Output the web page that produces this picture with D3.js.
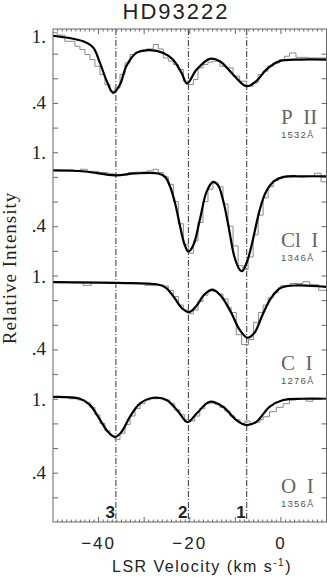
<!DOCTYPE html>
<meta charset="utf-8">
<script src="https://d3js.org/d3.v7.min.js"></script>
<style>
  body { margin: 0; background: #fff; }
  text { fill: #222; }
</style>
<div id="chart"></div>
<script>

// panels, top to bottom
var species = ["P II", "Cl I", "C I", "O I"];
var wavelengths = ["1532Å", "1346Å", "1276Å", "1356Å"];
var offsets = [3, 2, 1, 0];

// velocity components (km/s)
var compVel = [-7.5, -20.3, -36.2];
var compLabels = ["1", "2", "3"];

var xTicks = [-40, -20, 0];

// model fits: [velocity, relative intensity]
var fitP2 = [[-50,0.945],[-43.4,0.90],[-41.2,0.85],[-39.7,0.725],[-38.2,0.577],[-36.8,0.482],[-35.3,0.55],[-33.9,0.70],[-31.7,0.806],[-28.8,0.828],[-25.8,0.806],[-23.7,0.752],[-21.8,0.644],[-20.6,0.558],[-18.5,0.671],[-15.6,0.758],[-13.4,0.739],[-10.5,0.631],[-7.6,0.536],[-5.4,0.577],[-3.2,0.671],[-0.3,0.739],[4.1,0.752],[10,0.752]];
var fitCl1 = [[-50,0.852],[-43,0.844],[-36.4,0.812],[-32,0.828],[-26.9,0.828],[-25.4,0.80],[-24.3,0.72],[-23.2,0.585],[-22.1,0.395],[-21.2,0.26],[-20.3,0.193],[-19.2,0.247],[-17.8,0.45],[-16.3,0.68],[-14.9,0.76],[-13.8,0.733],[-12.7,0.612],[-11.6,0.42],[-10.2,0.152],[-9.1,0.05],[-8.5,0.035],[-7.4,0.116],[-6.3,0.265],[-4.8,0.51],[-3.4,0.67],[-1.5,0.765],[0.6,0.80],[5,0.805],[10,0.805]];
var fitC1 = [[-50,0.946],[-36,0.94],[-27,0.927],[-25.2,0.90],[-23.4,0.82],[-21.6,0.73],[-20.1,0.703],[-18.6,0.75],[-16.8,0.846],[-15,0.886],[-13.1,0.832],[-10.9,0.697],[-9.1,0.562],[-7.3,0.495],[-5.8,0.535],[-4,0.684],[-2.1,0.82],[0,0.90],[3.6,0.92],[10,0.908]];
var fitO1 = [[-50,1.015],[-44.1,1.0],[-41.9,0.95],[-39.7,0.83],[-37.9,0.73],[-36.4,0.69],[-35,0.73],[-33.1,0.855],[-30.9,0.962],[-28,1.008],[-25.1,0.99],[-22.5,0.895],[-20.5,0.81],[-18.5,0.88],[-15.6,0.976],[-12.7,0.935],[-9.8,0.827],[-7.6,0.787],[-5.4,0.813],[-2.5,0.935],[0.5,0.99],[4.8,1.0],[10,1.0]];

// observed spectra: [bin start velocity, relative intensity]
var dataP2 = [[-50,0.97],[-49.05,0.95],[-47.4,0.90],[-45.2,0.86],[-44.1,0.834],[-43.0,0.793],[-41.9,0.752],[-40.8,0.698],[-39.7,0.631],[-38.6,0.55],[-37.5,0.496],[-36.4,0.522],[-35.3,0.631],[-34.2,0.725],[-33.1,0.793],[-32.0,0.811],[-30.9,0.82],[-29.5,0.838],[-28.0,0.874],[-26.9,0.838],[-25.8,0.765],[-24.7,0.739],[-23.6,0.712],[-22.5,0.671],[-21.4,0.577],[-20.3,0.55],[-19.2,0.59],[-18.2,0.685],[-17.1,0.712],[-16.0,0.731],[-14.9,0.739],[-13.4,0.698],[-12.0,0.685],[-10.5,0.617],[-9.05,0.577],[-7.6,0.536],[-6.1,0.563],[-5.0,0.631],[-3.9,0.658],[-2.85,0.698],[-1.75,0.725],[-0.3,0.752],[0.8,0.779],[1.9,0.806],[3.3,0.77],[5.9,0.765],[10,0.765]];
var dataCl1 = [[-50,0.86],[-48.0,0.858],[-45.5,0.852],[-44.0,0.862],[-42.5,0.845],[-40,0.835],[-38,0.825],[-36.5,0.815],[-35,0.818],[-33.5,0.835],[-32,0.838],[-30.5,0.84],[-29.3,0.85],[-28,0.862],[-26.9,0.835],[-25.8,0.80],[-24.7,0.74],[-23.6,0.60],[-22.5,0.42],[-21.4,0.25],[-20.3,0.18],[-19.2,0.28],[-18.2,0.43],[-17.1,0.60],[-16.0,0.70],[-14.9,0.75],[-13.8,0.72],[-12.7,0.58],[-11.6,0.40],[-10.5,0.24],[-9.4,0.08],[-8.3,0.05],[-7.2,0.15],[-6.1,0.33],[-5.0,0.49],[-3.9,0.63],[-2.8,0.72],[-1.7,0.77],[-0.6,0.79],[0.5,0.80],[1.6,0.80],[3,0.80],[5,0.805],[7.4,0.83],[8.8,0.76],[10,0.76]];
var dataC1 = [[-50,0.95],[-47,0.945],[-43.4,0.92],[-41.6,0.942],[-38,0.94],[-35,0.94],[-32,0.935],[-29.8,0.92],[-27.2,0.925],[-25.8,0.915],[-24.7,0.88],[-23.6,0.83],[-22.5,0.76],[-21.4,0.72],[-20.3,0.69],[-19.2,0.72],[-18.2,0.79],[-17.1,0.84],[-16.0,0.875],[-14.9,0.87],[-13.8,0.85],[-12.7,0.81],[-11.6,0.74],[-10.9,0.70],[-9.8,0.52],[-8.6,0.44],[-7.1,0.48],[-6.0,0.62],[-4.9,0.70],[-3.9,0.76],[-2.8,0.82],[-1.7,0.86],[-0.6,0.90],[0.0,0.92],[2.0,0.935],[4.8,0.95],[6.3,0.925],[8.3,0.88],[10,0.88]];
var dataO1 = [[-50,1.01],[-46.5,1.0],[-44.5,0.99],[-43.0,0.97],[-41.9,0.93],[-40.8,0.87],[-39.7,0.80],[-38.6,0.74],[-37.5,0.70],[-36.4,0.67],[-35.3,0.72],[-34.2,0.79],[-33.1,0.86],[-32.0,0.92],[-30.9,0.96],[-29.8,0.99],[-28.7,1.0],[-27.0,1.005],[-25.5,0.99],[-24.4,0.96],[-23.3,0.91],[-22.2,0.87],[-21.1,0.83],[-20.0,0.82],[-18.9,0.86],[-17.8,0.92],[-16.7,0.96],[-15.6,0.965],[-14.5,0.955],[-13.4,0.93],[-12.3,0.90],[-11.2,0.86],[-10.1,0.83],[-9.0,0.80],[-7.9,0.82],[-6.8,0.80],[-5.7,0.81],[-4.6,0.83],[-3.9,0.854],[-2.5,0.895],[-1.0,0.93],[0.5,0.96],[1.9,0.99],[3.3,1.0],[5.5,0.98],[7.0,1.0],[10,1.0]];

var fits = [fitP2, fitCl1, fitC1, fitO1];
var spectra = [dataP2, dataCl1, dataC1, dataO1];

var W = 327, H = 577;
var x = d3.scaleLinear().domain([-50, 10]).range([53, 326.5]);
var y = d3.scaleLinear().domain([0, 4]).range([522, 29]);

var svg = d3.select("#chart").append("svg")
    .attr("width", W)
    .attr("height", H);

// title
svg.append("text")
    .attr("x", 176).attr("y", 19)
    .attr("text-anchor", "middle")
    .style("font", "22px 'Liberation Sans', sans-serif")
    .style("letter-spacing", "2px")
    .text("HD93222");

// component markers
svg.selectAll("line.comp")
  .data(compVel)
  .enter().append("line")
    .attr("x1", function(d) { return x(d); })
    .attr("x2", function(d) { return x(d); })
    .attr("y1", y(4)).attr("y2", y(0))
    .attr("stroke", "#333")
    .attr("stroke-width", 1)
    .attr("stroke-dasharray", "6,2,1,2");

svg.selectAll("text.comp")
  .data(compVel)
  .enter().append("text")
    .attr("x", function(d) { return x(d) - 1; })
    .attr("y", 518)
    .attr("text-anchor", "end")
    .style("font", "bold 17px 'Liberation Sans', sans-serif")
    .text(function(d, i) { return compLabels[i]; });

// spectra
var step = d3.line()
    .x(function(d) { return x(d[0]); })
    .curve(d3.curveStepAfter);
var smooth = d3.line()
    .x(function(d) { return x(d[0]); })
    .curve(d3.curveCatmullRom.alpha(0.5));

spectra.forEach(function(s, i) {
  var off = offsets[i];
  step.y(function(d) { return y(d[1] + off); });
  svg.append("path")
    .attr("d", step(s))
    .attr("fill", "none")
    .attr("stroke", "#8a8a8a")
    .attr("stroke-width", 1);
});

fits.forEach(function(f, i) {
  var off = offsets[i];
  smooth.y(function(d) { return y(d[1] + off); });
  svg.append("path")
    .attr("d", smooth(f))
    .attr("fill", "none")
    .attr("stroke", "#000")
    .attr("stroke-width", 2.2);
});

// frame
svg.append("rect")
    .attr("x", 53).attr("y", y(4))
    .attr("width", x(10) - 53).attr("height", y(0) - y(4))
    .attr("fill", "none")
    .attr("stroke", "#666")
    .attr("stroke-width", 1);

// y ticks every 0.2, on both sides, pointing inward
var yt = d3.range(1, 20).map(function(k) { return k * 0.2; });
svg.append("g")
    .attr("transform", "translate(53,0)")
    .call(d3.axisRight(y).tickValues(yt).tickSize(5).tickFormat(""))
    .call(function(g) { g.select(".domain").remove(); g.selectAll("line").attr("stroke", "#666"); });
svg.append("g")
    .attr("transform", "translate(" + x(10) + ",0)")
    .call(d3.axisLeft(y).tickValues(yt).tickSize(5).tickFormat(""))
    .call(function(g) { g.select(".domain").remove(); g.selectAll("line").attr("stroke", "#666"); });

// x ticks, minor every 1, major every 10
var xMinor = d3.range(-49, 10);
[[y(0), -1], [y(4), 1]].forEach(function(p) {
  svg.append("g").selectAll("line")
    .data(xMinor)
    .enter().append("line")
      .attr("x1", function(d) { return x(d); })
      .attr("x2", function(d) { return x(d); })
      .attr("y1", p[0])
      .attr("y2", function(d) { return p[0] + p[1] * (d % 10 === 0 ? 5 : 2.5); })
      .attr("stroke", "#666");
});

svg.selectAll("text.xt")
  .data(xTicks)
  .enter().append("text")
    .attr("x", function(d) { return x(d); })
    .attr("y", 549)
    .attr("text-anchor", "middle")
    .style("font", "17px 'Liberation Sans', sans-serif")
    .style("letter-spacing", "2px")
    .text(function(d) { return d3.format("d")(d); });

svg.append("text")
    .attr("x", 202).attr("y", 572)
    .attr("text-anchor", "middle")
    .style("font", "16px 'Liberation Sans', sans-serif")
    .style("letter-spacing", "1.5px")
    .html("LSR Velocity (km s<tspan dy='-6' font-size='10'>-1</tspan><tspan dy='6'>)</tspan>");

svg.append("text")
    .attr("transform", "translate(16,268) rotate(-90)")
    .attr("text-anchor", "middle")
    .style("font", "19px 'Liberation Serif', serif")
    .style("letter-spacing", "1px")
    .text("Relative Intensity");

// y labels
offsets.forEach(function(off, i) {
  svg.append("text")
    .attr("x", 46)
    .attr("y", Math.max(y(off + 1) + 7, 43))
    .attr("text-anchor", "end")
    .style("font", "19px 'Liberation Serif', serif")
    .text("1.");
  svg.append("text")
    .attr("x", 46)
    .attr("y", y(off + 0.4) + 6)
    .attr("text-anchor", "end")
    .style("font", "19px 'Liberation Serif', serif")
    .text(".4");

  // species label
  svg.append("text")
    .attr("x", 281)
    .attr("y", y(off + 0.2) - 4)
    .style("font", "21px 'Liberation Serif', serif")
    .style("fill", "#666")
    .text(species[i].replace(" ", "\u2002"));
  svg.append("text")
    .attr("x", 281)
    .attr("y", y(off + 0.2) + 10)
    .style("font", "9.5px 'Liberation Sans', sans-serif")
    .style("fill", "#555")
    .style("letter-spacing", "1.2px")
    .text(wavelengths[i]);
});

</script>
